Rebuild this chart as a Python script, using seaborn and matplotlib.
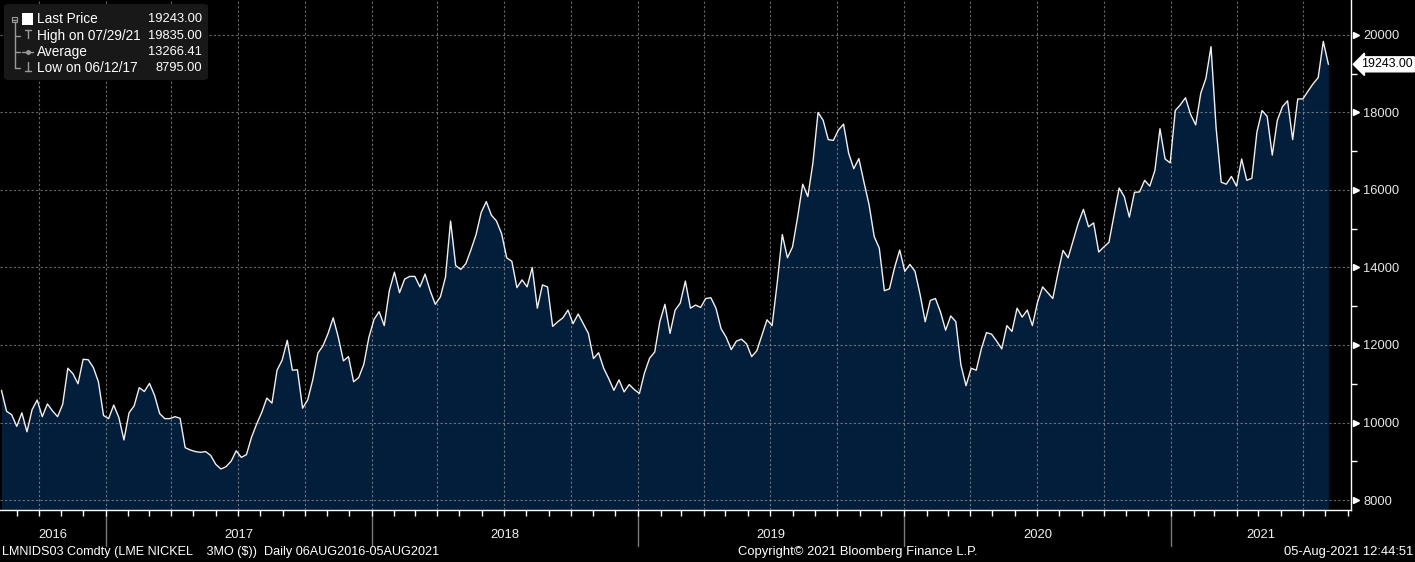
import numpy as np
import pandas as pd
import seaborn as sns
import matplotlib.pyplot as plt
import matplotlib.dates as mdates
from matplotlib.patches import FancyBboxPatch, Rectangle
from matplotlib.lines import Line2D

# LME nickel 3M, weekly closes
prices = [
    10830, 10290, 10200, 9900, 10250, 9760, 10330, 10580, 10150, 10480,
    10300, 10150, 10470, 11400, 11260, 11000, 11630, 11620, 11420, 11050,
    10180, 10100, 10450, 10130, 9550, 10250, 10430, 10900, 10800, 11010,
    10700, 10230, 10100, 10100, 10150, 10110, 9350, 9290, 9250, 9230,
    9250, 9150, 8920, 8800, 8860, 9000, 9270, 9100, 9170, 9620,
    9960, 10260, 10630, 10500, 11350, 11610, 12120, 11350, 11360, 10370,
    10580, 11100, 11790, 11980, 12300, 12700, 12200, 11590, 11700, 11050,
    11160, 11500, 12200, 12660, 12860, 12500, 13400, 13880, 13350, 13700,
    13770, 13770, 13500, 13830, 13400, 13050, 13240, 13750, 15200, 14050,
    13950, 14100, 14460,
    14850, 15420, 15700, 15350, 15200, 14870, 14250, 14160, 13480, 13680,
    13500, 14000, 12950, 13550, 13500, 12480, 12600, 12700, 12900, 12550,
    12800, 12550, 12300, 11650, 11800, 11400, 11130, 10830, 11100, 10790,
    10980, 10850, 10750, 11280, 11660, 11820, 12600, 13050, 12300, 12900,
    13080, 13650, 12950, 13030, 12970, 13200, 13220, 12950, 12420, 12200,
    11880, 12100, 12150, 12030, 11700, 11850, 12250, 12650, 12500, 13600,
    14850, 14250, 14530, 15300, 16150, 15830, 16700, 18000, 17800, 17300,
    17280, 17550, 17700, 16950, 16550, 16810, 16200, 15620, 14800, 14500,
    13400, 13450, 14000, 14450, 13900, 14080, 13900, 13300, 12600, 13150,
    13200, 12850, 12380, 12750, 12600, 11480, 10950, 11400, 11350, 11900,
    12320, 12280, 12100, 11900, 12500, 12350, 12950, 12720, 12900, 12500,
    13100, 13500, 13350, 13200, 13850, 14440, 14250, 14700, 15150, 15500,
    15050, 15150, 14400, 14530, 14650, 15350, 16050, 15830, 15300, 15940,
    15950, 16250, 16100, 16500, 17580, 16800, 16700, 18050, 18200, 18380,
    17950, 17680, 18500, 18880, 19700, 17600, 16200, 16150, 16350, 16100,
    16800, 16250, 16300, 17500, 18050, 17900, 16900, 17800, 18150, 18300,
    17300, 18350, 18350, 18550, 18740, 18900, 19835, 19243,
]
dates = pd.date_range(end="2021-08-05", periods=len(prices), freq="7D")
df = pd.DataFrame({"date": dates, "price": prices})

years = ["2016", "2017", "2018", "2019", "2020", "2021"]
legend_rows = [("Last Price", "19243.00"),
               ("High on 07/29/21", "19835.00"),
               ("Average", "13266.41"),
               ("Low on 06/12/17", "8795.00")]
last_price = 19243.00
footer_left = "LMNIDS03 Comdty (LME NICKEL    3MO ($))  Daily 06AUG2016-05AUG2021"
footer_mid = "Copyright\u00a9 2021 Bloomberg Finance L.P."
footer_right = "05-Aug-2021 12:44:51"

sns.set_style("dark")
plt.rcParams["font.family"] = ["Liberation Sans", "DejaVu Sans"]

W, H = 1415, 562
fig = plt.figure(figsize=(W / 100, H / 100), dpi=100, facecolor="black")
ax = fig.add_axes([0, (H - 510) / H, 1351 / W, 510 / H])
ax.set_facecolor("black")

x0, x1 = pd.Timestamp("2016-08-09"), pd.Timestamp("2021-09-05")
ybot, ytop = 7742, 20903

ax.fill_between(df["date"], df["price"], ybot, color="#031e3a", lw=0, zorder=1)
sns.lineplot(data=df, x="date", y="price", ax=ax, color="#f0f0f0", lw=1.0, zorder=3)

ax.set_xlim(x0, x1)
ax.set_ylim(ybot, ytop)
ax.set_xlabel("")
ax.set_ylabel("")

# x axis: quarterly grid, monthly ticks, no labels
ax.xaxis.set_major_locator(mdates.MonthLocator(bymonth=[1, 4, 7, 10]))
ax.xaxis.set_minor_locator(mdates.MonthLocator())
ax.xaxis.set_major_formatter(plt.NullFormatter())
ax.tick_params(axis="x", which="both", direction="out", length=4, width=1,
               color="white", bottom=True)

# y axis on the right
ax.yaxis.tick_right()
ax.set_yticks(np.arange(8000, 20001, 2000))
ax.set_yticks(np.arange(9000, 20000, 2000), minor=True)
ax.tick_params(axis="y", which="major", length=0, pad=9, labelsize=9.3,
               labelcolor="#e8e8e8", right=True, left=False)
ax.tick_params(axis="y", which="minor", length=4, width=1, color="white",
               direction="out", right=True, left=False)

ax.grid(False)
ax.set_axisbelow(False)
ax.grid(True, which="major", axis="both", color="#b0b0b0", alpha=0.6,
        lw=0.8, linestyle=(0, (2, 2)))

for side in ["top", "left"]:
    ax.spines[side].set_visible(False)
for side in ["right", "bottom"]:
    ax.spines[side].set_visible(True)
    ax.spines[side].set_color("white")
    ax.spines[side].set_linewidth(1)

# small white pointers next to y labels
ytr = ax.get_yaxis_transform()
ax.plot([1.0037] * 7, np.arange(8000, 20001, 2000), transform=ytr, marker=">",
        ms=4.5, ls="none", color="white", clip_on=False, zorder=5)

# last price tag
ax.text(1.0075, last_price, f"{last_price:.2f}", transform=ytr, ha="left",
        va="center", fontsize=8.9, color="black", zorder=6,
        bbox=dict(boxstyle="larrow,pad=0.12", fc="white", ec="white"))

# year labels with separators
xtr = ax.get_xaxis_transform()
bounds = [x0] + [pd.Timestamp(f"{y}-01-01") for y in range(2017, 2022)] + [x1]
for i, yr in enumerate(years):
    mid = bounds[i] + (bounds[i + 1] - bounds[i]) / 2
    ax.text(mid, -0.049, yr, transform=xtr, ha="center", va="center",
            fontsize=9.4, color="#f0f0f0")
for b in bounds[1:-1]:
    ax.add_line(Line2D([b, b], [-0.01, -0.07], transform=xtr, color="#7a7a7a",
                       lw=1, clip_on=False))

# footer
fy = 1 - 552 / H
fig.text(2 / W, fy, footer_left, ha="left", va="center", fontsize=9.1, color="white")
fig.text(858 / W, fy, footer_mid, ha="center", va="center", fontsize=9.4, color="white")
fig.text(1413 / W, fy, footer_right, ha="right", va="center", fontsize=9.4, color="white")

# legend block (top left)
def px(x, y):
    return x / W, 1 - y / H

box = FancyBboxPatch(px(4, 80), 204 / W, 76 / H, boxstyle="round,pad=0,rounding_size=0.004",
                     transform=fig.transFigure, fc="#181818", ec="none", zorder=10)
fig.patches.append(box)

grey = "#9a9a9a"
def fline(xs, ys, **kw):
    fig.lines.append(Line2D([x / W for x in xs], [1 - y / H for y in ys],
                            transform=fig.transFigure, color=kw.pop("color", grey),
                            lw=kw.pop("lw", 1), zorder=11, **kw))

fig.patches.append(Rectangle(px(12, 22), 5 / W, 5 / H, transform=fig.transFigure,
                             fc="none", ec=grey, lw=0.8, zorder=11))
fline([13, 16], [19.5, 19.5])
fline([14.5, 14.5], [22, 68])
fline([14.5, 20], [36, 36])
fline([14.5, 20], [52, 52])
fline([14.5, 20], [68, 68])
fig.patches.append(Rectangle(px(22, 25), 11 / W, 12 / H, transform=fig.transFigure,
                             fc="white", ec="none", zorder=11))
fline([25, 31], [30, 30])
fline([28, 28], [30, 38])
fline([22, 33], [52, 52])
fig.lines.append(Line2D([27.5 / W], [1 - 52 / H], transform=fig.transFigure, marker="o",
                        ms=2.5, color=grey, zorder=11))
fline([28, 28], [62, 71])
fline([25, 31], [71, 71])

for i, (lab, val) in enumerate(legend_rows):
    yy = [19, 36, 52, 68][i]
    fig.text(37 / W, 1 - yy / H, lab, ha="left", va="center", fontsize=9.8,
             color="white", zorder=12)
    fig.text(202 / W, 1 - yy / H, val, ha="right", va="center", fontsize=9.3,
             color="white", zorder=12)

fig.savefig("out.png", dpi=100, facecolor="black")
